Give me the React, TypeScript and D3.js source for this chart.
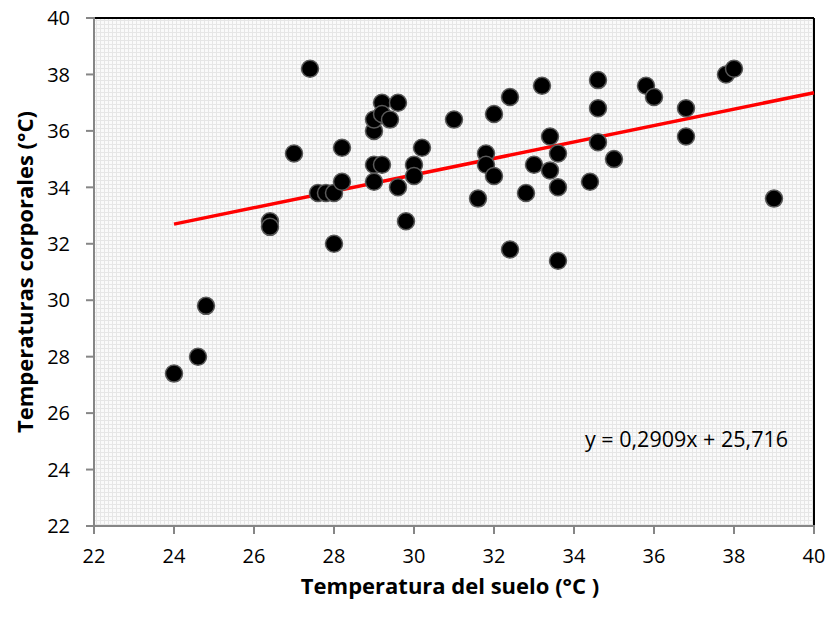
import React from "react";
import * as d3 from "d3";

const soilTemp = [24, 24.6, 24.8, 26.4, 26.4, 27.4, 27.0, 27.6, 27.8, 28.0, 28.2, 28.2, 28.0, 29.0, 29.0, 29.2, 29.0, 29.0, 29.2, 29.2, 29.4, 29.6, 29.6, 29.8, 30.0, 30.0, 30.2, 31.0, 31.6, 31.8, 31.8, 32.0, 32.0, 32.4, 32.4, 32.8, 33.0, 33.2, 33.4, 33.4, 33.6, 33.6, 33.6, 34.4, 34.6, 34.6, 34.6, 35.0, 35.8, 36.0, 36.8, 36.8, 37.8, 38.0, 39.0];
const bodyTemp = [27.4, 28.0, 29.8, 32.8, 32.6, 38.2, 35.2, 33.8, 33.8, 33.8, 34.2, 35.4, 32.0, 34.8, 34.2, 34.8, 36.0, 36.4, 37.0, 36.6, 36.4, 37.0, 34.0, 32.8, 34.8, 34.4, 35.4, 36.4, 33.6, 35.2, 34.8, 34.4, 36.6, 37.2, 31.8, 33.8, 34.8, 37.6, 35.8, 34.6, 35.2, 34.0, 31.4, 34.2, 37.8, 36.8, 35.6, 35.0, 37.6, 37.2, 36.8, 35.8, 38.0, 38.2, 33.6];
const xTicks = [22, 24, 26, 28, 30, 32, 34, 36, 38, 40];
const yTicks = [22, 24, 26, 28, 30, 32, 34, 36, 38, 40];
const slope = 0.2909;
const intercept = 25.716;
const trendX = [24, 40];

const W = 829, H = 626;
const L = 94, R = 814, T = 18, B = 526;

export default function App() {
  const x = d3.scaleLinear().domain([22, 40]).range([L, R]);
  const y = d3.scaleLinear().domain([22, 40]).range([B, T]);
  const font = "'Open Sans', sans-serif";
  const line = d3.line<number>().x(d => x(d)).y(d => y(slope * d + intercept));
  return (
    <svg width={W} height={H} style={{ position: "absolute", left: 0, top: 0, background: "#fff" }}>
      <defs>
        <pattern id="grid" width={4} height={4} patternUnits="userSpaceOnUse">
          <rect width={4} height={4} fill="#fafafa" />
          <path d="M0 0.5H4M0.5 0V4" stroke="#e6e6e6" strokeWidth={1} />
        </pattern>
      </defs>
      <rect x={L} y={T} width={R - L} height={B - T} fill="url(#grid)" />
      <line x1={L} x2={R} y1={T} y2={T} stroke="#000" strokeWidth={2} />
      <line x1={R} x2={R} y1={T} y2={B} stroke="#000" strokeWidth={2} />
      <line x1={L} x2={L} y1={T - 1} y2={B} stroke="#868686" strokeWidth={2} />
      <line x1={L - 1} x2={R + 1} y1={B} y2={B} stroke="#868686" strokeWidth={2} />
      {yTicks.map(t => (
        <g key={"y" + t}>
          <line x1={L - 8} x2={L} y1={y(t)} y2={y(t)} stroke="#868686" strokeWidth={2} />
          <text x={L - 24} y={y(t)} dy="0.36em" textAnchor="end" fontFamily={font} fontSize={20} fill="#000">{t}</text>
        </g>
      ))}
      {xTicks.map(t => (
        <g key={"x" + t}>
          <line x1={x(t)} x2={x(t)} y1={B} y2={B + 8} stroke="#868686" strokeWidth={2} />
          <text x={x(t)} y={B + 37} textAnchor="middle" fontFamily={font} fontSize={20} fill="#000">{t}</text>
        </g>
      ))}
      <path d={line(trendX) || ""} stroke="#ff0000" strokeWidth={3.5} fill="none" />
      {soilTemp.map((s, i) => (
        <circle key={i} cx={x(s)} cy={y(bodyTemp[i])} r={8.5} fill="#000" stroke="#595959" strokeWidth={1.5} />
      ))}
      <text x={585} y={447} fontFamily={font} fontSize={21.5} fill="#000">y = 0,2909x + 25,716</text>
      <text x={450} y={594} textAnchor="middle" fontFamily={font} fontSize={22} fontWeight="bold" fill="#000">Temperatura del suelo (°C )</text>
      <text transform={`translate(33,${(T + B) / 2}) rotate(-90)`} textAnchor="middle" fontFamily={font} fontSize={22} fontWeight="bold" fill="#000">Temperaturas corporales (°C)</text>
    </svg>
  );
}
